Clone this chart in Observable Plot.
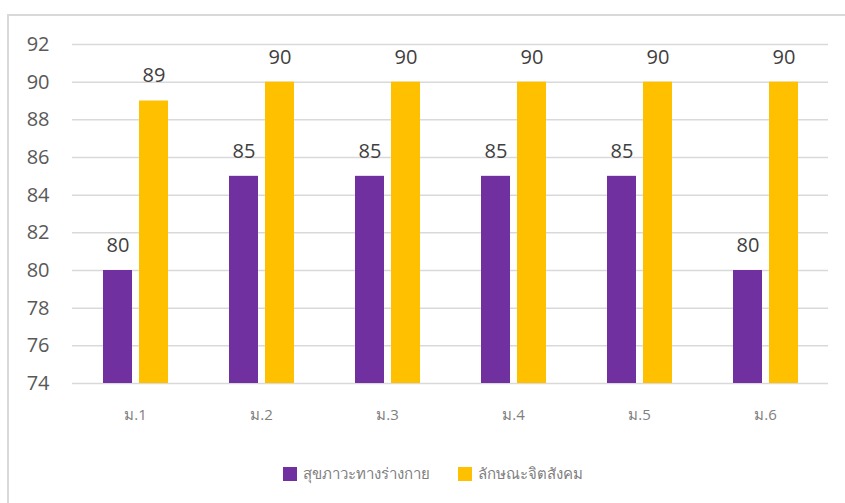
<!DOCTYPE html>
<html>
<head>
<meta charset="utf-8">
<script src="https://cdn.jsdelivr.net/npm/d3@7"></script>
<script src="https://cdn.jsdelivr.net/npm/@observablehq/plot@0.6"></script>
<style>
  html, body { margin: 0; padding: 0; background: #fff; overflow: hidden; }
  body { width: 845px; height: 503px; position: relative; font-family: "Open Sans", "Noto Sans", sans-serif; }
  #frame { position: absolute; left: 7px; top: 14px; width: 900px; height: 600px; border: 2px solid #d9d9d9; box-sizing: border-box; }
  #chart { position: absolute; left: 0; top: 0; }
  #legend { position: absolute; top: 462px; left: 0; width: 845px; display: flex; justify-content: flex-start; padding-left: 283px; box-sizing: border-box; font-size: 15px; color: #7f7f7f; }
  .item { display: flex; align-items: center; margin-right: 28px; }
  .sw { width: 14px; height: 14px; margin-right: 6px; display: inline-block; }
</style>
</head>
<body>
<div id="frame"></div>
<div id="chart"></div>
<div id="legend"></div>
<script>
const categories = ["ม.1", "ม.2", "ม.3", "ม.4", "ม.5", "ม.6"];
const seriesNames = ["สุขภาวะทางร่างกาย", "ลักษณะจิตสังคม"];
const physical = [80, 85, 85, 85, 85, 80];
const psychosocial = [89, 90, 90, 90, 90, 90];
const yTicks = [74, 76, 78, 80, 82, 84, 86, 88, 90, 92];
const colors = ["#7030A0", "#FFC000"];

const data = categories.flatMap((c, i) => [
  {cat: c, series: seriesNames[0], value: physical[i]},
  {cat: c, series: seriesNames[1], value: psychosocial[i]}
]);

const chart = Plot.plot({
  width: 845,
  height: 430,
  marginLeft: 72,
  marginRight: 17,
  marginTop: 44,
  marginBottom: 47,
  style: {fontFamily: "'Open Sans', 'Noto Sans', sans-serif", background: "transparent"},
  fx: {domain: categories, padding: 0, label: null},
  x: {domain: seriesNames, paddingInner: 7 / 36, paddingOuter: 0.847, axis: null},
  y: {domain: [74, 92], label: null},
  color: {domain: seriesNames, range: colors},
  marks: [
    Plot.gridY(yTicks, {stroke: "#d9d9d9", strokeOpacity: 1, strokeWidth: 1.5}),
    Plot.axisY(yTicks, {tickSize: 0, tickPadding: 23, fontSize: 20, fill: "#595959", label: null}),
    Plot.axisFx({anchor: "bottom", tickSize: 0, tickPadding: 26, fontSize: 15, fill: "#7f7f7f", label: null}),
    Plot.barY(data, {fx: "cat", x: "series", y1: 74, y2: "value", fill: "series"}),
    Plot.text(data, {fx: "cat", x: "series", y: "value", text: d => String(d.value), dy: -25, fontSize: 20, fill: "#404040"})
  ]
});
document.getElementById("chart").appendChild(chart);

const legend = document.getElementById("legend");
seriesNames.forEach((s, i) => {
  const item = document.createElement("div");
  item.className = "item";
  const sw = document.createElement("span");
  sw.className = "sw";
  sw.style.background = colors[i];
  const label = document.createElement("span");
  label.textContent = s;
  item.appendChild(sw);
  item.appendChild(label);
  legend.appendChild(item);
});
</script>
</body>
</html>
